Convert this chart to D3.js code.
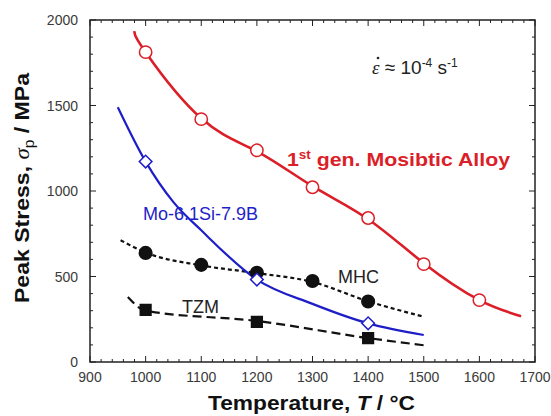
<!DOCTYPE html>
<html>
<head>
<meta charset="utf-8">
<script src="https://cdn.jsdelivr.net/npm/d3@7"></script>
<style>
  body { margin: 0; background: #fff; }
  svg text { font-family: "Liberation Sans", Arial, sans-serif; }
</style>
</head>
<body>
<div id="chart"></div>
<script>
// measured points
const tempPts = [1000, 1100, 1200, 1300, 1400, 1500, 1600];
const mosibPts = [1812, 1420, 1238, 1022, 842, 572, 362];
const moSiBTemps = [1000, 1200, 1400];
const moSiBPts = [1172, 482, 226];
const mhcTemps = [1000, 1100, 1200, 1300, 1400];
const mhcPts = [638, 568, 522, 474, 354];
const tzmTemps = [1000, 1200, 1400];
const tzmPts = [305, 235, 140];

// fitted curves
const mosibFitT = [980, 1000, 1100, 1200, 1300, 1400, 1500, 1600, 1675];
const mosibFit = [1935, 1812, 1425, 1232, 1028, 835, 578, 362, 268];
const moSiBFitT = [950, 1000, 1050, 1100, 1200, 1300, 1400, 1500];
const moSiBFit = [1490, 1172, 935, 770, 482, 340, 226, 158];
const mhcFitT = [955, 1000, 1100, 1200, 1300, 1400, 1500];
const mhcFit = [712, 640, 565, 520, 468, 355, 265];
const tzmFitT = [968, 1000, 1200, 1400, 1500];
const tzmFit = [380, 300, 240, 140, 98];

const xTicks = [900, 1000, 1100, 1200, 1300, 1400, 1500, 1600, 1700];
const yTicks = [0, 500, 1000, 1500, 2000];

const W = 551, H = 416;
const m = {left: 90, top: 20, right: 535, bottom: 362};
const red = "#db1e27", blue = "#1e1ec8", ink = "#222";

const x = d3.scaleLinear().domain([900, 1700]).range([m.left, m.right]);
const y = d3.scaleLinear().domain([0, 2000]).range([m.bottom, m.top]);

const svg = d3.select('#chart').append('svg')
  .attr('width', W).attr('height', H);

// ticks, inward on all four sides
const xMinor = d3.range(900, 1701, 20), yMinor = d3.range(0, 2001, 100);
const tk = svg.append('g').attr('stroke', ink).attr('stroke-width', 1);
xMinor.forEach(function (v) {
  const len = v % 100 === 0 ? 6 : 3;
  tk.append('line').attr('x1', x(v)).attr('x2', x(v)).attr('y1', m.bottom).attr('y2', m.bottom - len);
  tk.append('line').attr('x1', x(v)).attr('x2', x(v)).attr('y1', m.top).attr('y2', m.top + len);
});
yMinor.forEach(function (v) {
  const len = v % 500 === 0 ? 6 : 3;
  tk.append('line').attr('y1', y(v)).attr('y2', y(v)).attr('x1', m.left).attr('x2', m.left + len);
  tk.append('line').attr('y1', y(v)).attr('y2', y(v)).attr('x1', m.right).attr('x2', m.right - len);
});
svg.append('rect')
  .attr('x', m.left).attr('y', m.top)
  .attr('width', m.right - m.left).attr('height', m.bottom - m.top)
  .attr('fill', 'none').attr('stroke', ink).attr('stroke-width', 1.5);

// tick labels
svg.append('g').selectAll('text').data(xTicks).enter().append('text')
  .attr('x', function (d) { return x(d); }).attr('y', 382)
  .attr('text-anchor', 'middle').attr('font-size', 14).attr('fill', '#3a3a3a')
  .text(function (d) { return d; });
svg.append('g').selectAll('text').data(yTicks).enter().append('text')
  .attr('x', 78).attr('y', function (d) { return y(d) + 5; })
  .attr('text-anchor', 'end').attr('font-size', 14).attr('fill', '#3a3a3a')
  .text(function (d) { return d; });

// axis titles
const xt = svg.append('text').attr('x', 208).attr('y', 410)
  .attr('font-size', 20).attr('font-weight', 'bold').attr('fill', '#111')
  .attr('textLength', 207).attr('lengthAdjust', 'spacingAndGlyphs');
xt.append('tspan').text('Temperature, ');
xt.append('tspan').attr('font-style', 'italic').text('T');
xt.append('tspan').text(' / °C');

const yt = svg.append('text').attr('transform', 'translate(29,303) rotate(-90)')
  .attr('font-size', 21).attr('font-weight', 'bold').attr('fill', '#111')
  .attr('textLength', 230).attr('lengthAdjust', 'spacingAndGlyphs');
yt.append('tspan').text('Peak Stress, ');
yt.append('tspan').attr('font-style', 'italic').attr('font-family', 'Liberation Serif, serif').attr('font-weight', 'normal').text('σ');
yt.append('tspan').attr('font-size', 14).attr('dy', 5).attr('font-weight', 'normal').text('p');
yt.append('tspan').attr('dy', -5).text(' / MPa');

// curves
function curve(ts, vs, color, w, dash, shape) {
  const line = d3.line().curve(shape || d3.curveMonotoneX)
    .x(function (d) { return x(d[0]); }).y(function (d) { return y(d[1]); });
  svg.append('path').datum(d3.zip(ts, vs))
    .attr('d', line).attr('fill', 'none')
    .attr('stroke', color).attr('stroke-width', w)
    .attr('stroke-dasharray', dash || null);
}
curve(mhcFitT, mhcFit, '#111', 2.2, '4,3');
curve(tzmFitT, tzmFit, '#111', 2.2, '9,5');
curve(moSiBFitT, moSiBFit, blue, 2.2);
curve(mosibFitT, mosibFit, red, 2.6, null, d3.curveNatural);

// markers
const sym = d3.symbol();
function marks(ts, vs, type, size, fill, stroke, rot) {
  svg.append('g').selectAll('path').data(d3.zip(ts, vs)).enter().append('path')
    .attr('transform', function (d) { return 'translate(' + x(d[0]) + ',' + y(d[1]) + ') rotate(' + (rot || 0) + ')'; })
    .attr('d', sym.type(type).size(size)())
    .attr('fill', fill).attr('stroke', stroke).attr('stroke-width', 1.5);
}
marks(mhcTemps, mhcPts, d3.symbolCircle, 125, '#111', '#111');
marks(tzmTemps, tzmPts, d3.symbolSquare, 115, '#111', '#111');
marks(moSiBTemps, moSiBPts, d3.symbolSquare, 80, '#fff', blue, 45);
marks(tempPts, mosibPts, d3.symbolCircle, 120, '#fff', red);

// labels
const lab = svg.append('text').attr('x', 287).attr('y', 166)
  .attr('font-size', 19).attr('font-weight', 'bold').attr('fill', red)
  .attr('textLength', 223).attr('lengthAdjust', 'spacingAndGlyphs');
lab.append('tspan').text('1');
lab.append('tspan').attr('font-size', 12).attr('dy', -7).text('st');
lab.append('tspan').attr('dy', 7).text(' gen. Mosibtic Alloy');

svg.append('text').attr('x', 143).attr('y', 220)
  .attr('font-size', 18).attr('fill', blue).text('Mo-6.1Si-7.9B');
svg.append('text').attr('x', 338).attr('y', 283)
  .attr('font-size', 18).attr('fill', '#222').text('MHC');
svg.append('text').attr('x', 182).attr('y', 313)
  .attr('font-size', 18).attr('fill', '#222').text('TZM');

// strain rate note
const rate = svg.append('text').attr('x', 372).attr('y', 74)
  .attr('font-size', 19).attr('fill', '#222');
rate.append('tspan').attr('font-family', 'Liberation Serif, serif').attr('font-style', 'italic').text('ε');
rate.append('tspan').text(' ≈ 10');
rate.append('tspan').attr('font-size', 12).attr('dy', -7).text('-4');
rate.append('tspan').attr('dy', 7).text(' s');
rate.append('tspan').attr('font-size', 12).attr('dy', -7).text('-1');
svg.append('circle').attr('cx', 378).attr('cy', 58).attr('r', 1.3).attr('fill', '#222');
</script>
</body>
</html>
